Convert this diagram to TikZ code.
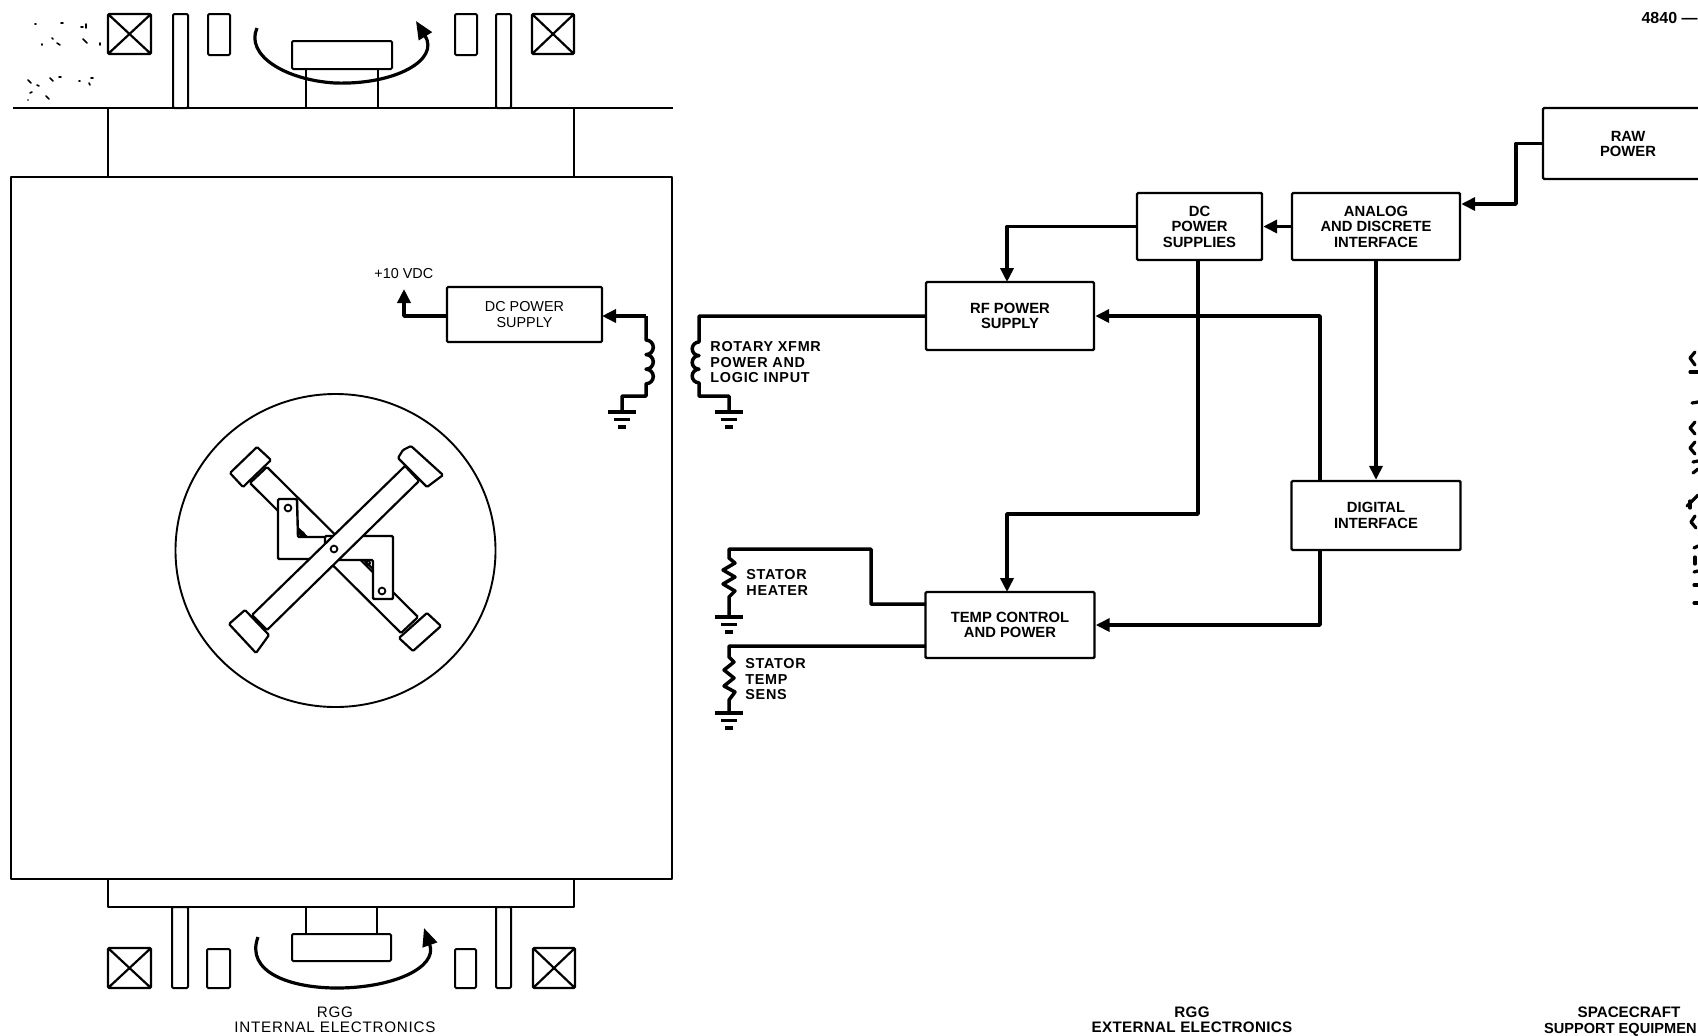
\documentclass[tikz,border=0pt]{standalone}
\usepackage{fontspec}
\setmainfont{Liberation Sans}
\newfontfamily\spaced[LetterSpace=5]{Liberation Sans}
\newfontfamily\spacedb[LetterSpace=5]{Liberation Sans Bold}
\newfontfamily\spacedc[LetterSpace=2]{Liberation Sans Bold}
\usetikzlibrary{arrows.meta}
\tikzset{
  x=0.5pt,y=-0.5pt,
  thin line/.style={line width=0.95pt,line join=round},
  block/.style={draw,line width=1.2pt,rounded corners=0.6pt,inner sep=0pt,align=center,font=\fontsize{7.4}{7.8}\selectfont\bfseries},
  iblock/.style={block,line width=1.05pt,font=\fontsize{7.2}{7.6}\selectfont},
  wire/.style={line width=1.75pt,line join=round},
  flow/.style={wire,-{Triangle[length=7pt,width=6.5pt]}},
  lbl/.style={inner sep=0pt,align=left,anchor=north west,font=\fontsize{7.2}{7.8}\selectfont\spacedb},
  caption/.style={inner sep=0pt,align=center,font=\fontsize{7.6}{7.6}\selectfont},
  part/.style={draw,fill=white,line width=1pt,rounded corners=0.6pt},
  xbox/.style={line width=1.1pt,rounded corners=0.6pt},
  speck/.style={line width=0.8pt,line cap=round},
  blob/.style={line width=1.6pt,line cap=round},
  gnd/.pic={
    \draw[line width=1.7pt] (-14,0) -- (14,0);
    \draw[line width=1.5pt] (-8,7) -- (8,7);
    \draw[line width=1.7pt] (-4,15) -- (4,15);
  }
}
\newcommand{\xcoil}[4]{%
  \draw[xbox] (#1,#2) rectangle (#3,#4) (#1,#2) -- (#3,#4) (#1,#4) -- (#3,#2);}
\begin{document}
\begin{tikzpicture}
\path[use as bounding box,fill=white] (0,0) rectangle (1698,1035);
\clip (0,0) rectangle (1698,1035);

% --- RGG housing ---
\draw[thin line] (11,177) rectangle (672,879);
\draw[thin line] (13,108) -- (673,108);
\draw[thin line] (108,108) -- (108,177);
\draw[thin line] (574,108) -- (574,177);
\draw[thin line] (108,879) -- (108,907) -- (574,907) -- (574,879);

% --- top rotary assembly ---
\xcoil{108}{14}{151}{54}
\xcoil{532}{14}{574}{54}
\draw[part] (173,14) rectangle (188,108);
\draw[part] (496,14) rectangle (511,108);
\draw[part] (208,14) rectangle (230,55);
\draw[part] (455,14) rectangle (477,55);
\draw[thin line] (306,69) -- (306,108);
\draw[thin line] (378,69) -- (378,108);
\draw[part] (292,41) rectangle (392,69);
\draw[flow,line width=1.6pt,-{Triangle[length=9pt,width=7.5pt]}] (257,28) .. controls (245,55) and (285,80) .. (335,83)
   .. controls (395,85) and (440,60) .. (416,21);

% --- bottom rotary assembly ---
\xcoil{108}{948}{151}{988}
\xcoil{533}{948}{575}{988}
\draw[part] (172,907) rectangle (188,988);
\draw[part] (496,907) rectangle (511,988);
\draw[part] (207,949) rectangle (230,988);
\draw[part] (455,949) rectangle (476,988);
\draw[thin line] (306,907) -- (306,934);
\draw[thin line] (377,907) -- (377,934);
\draw[part] (292,934) rectangle (391,961);
\draw[flow,line width=1.6pt,-{Triangle[length=9pt,width=7.5pt]}] (258,937) .. controls (245,972) and (290,988) .. (337,988)
   .. controls (392,988) and (438,968) .. (424,928);

% --- gyro rotor ---
\draw[thin line] (335.5,550.5) ellipse[x radius=160,y radius=156.5];
% back arm
\draw[part,line width=1.1pt] (250,483) -- (267,467) -- (418,617) -- (401,633) -- cycle;
\draw[part,line width=1.1pt] (230,473) -- (257,447) -- (271,460) -- (243,487) -- cycle;
\draw[part,line width=1.1pt] (399,638) -- (427,613) -- (441,626) -- (413,651) -- cycle;
% flexure plates
\draw[part,line width=1.2pt] (278,499) -- (297,499) -- (298,537) -- (345,537) -- (345,559) -- (278,559) -- cycle;
\draw[part,line width=1.2pt] (325,536) -- (393,536) -- (393,599) -- (373,599) -- (373,560) -- (325,560) -- cycle;
\draw[line width=0.9pt] (288,508) circle[radius=3.4];
\draw[line width=0.9pt] (382,591) circle[radius=3.4];
\draw[line width=1pt] (298,528) -- (307,537);
\draw[line width=0.9pt] (302,534) circle[radius=2];
\draw[line width=1pt] (373,569) -- (364,560);
\draw[line width=0.9pt] (368,563) circle[radius=2];
% front arm
\draw[part,line width=1.1pt] (252,615) -- (405,466) -- (419,481) -- (267,630) -- cycle;
\draw[part,line width=1.1pt] (229,624) -- (245,610) -- (269,635) -- (256,653) -- cycle;
\draw[part,line width=1.1pt] (403,450) -- (411,446) -- (443,475) -- (427,487) -- (398,458) -- cycle;
\draw[line width=0.9pt] (334,549) circle[radius=3.4];

% --- blocks ---
\node[iblock,minimum width=77.5pt,minimum height=27.5pt] (dcint) at (524.5,314.5) {DC POWER\\SUPPLY};
\node[block,minimum width=84pt,minimum height=34pt] (rf) at (1010,316) {RF POWER\\SUPPLY};
\node[block,minimum width=62.5pt,minimum height=33.5pt] (dc) at (1199.5,226.5) {DC\\POWER\\SUPPLIES};
\node[block,minimum width=84pt,minimum height=33.5pt] (analog) at (1376,226.5) {ANALOG\\AND DISCRETE\\INTERFACE};
\node[block,minimum width=84.5pt,minimum height=34.5pt] (digital) at (1376,515.5) {DIGITAL\\INTERFACE};
\node[block,minimum width=84.5pt,minimum height=33pt] (temp) at (1010,625) {TEMP CONTROL\\AND POWER};
\node[block,minimum width=90pt,minimum height=35.5pt] (raw) at (1633,143.5) {};
\node[inner sep=0pt,align=center,font=\fontsize{7.4}{7.8}\selectfont\bfseries] (rawtext) at (1628,144) {RAW\\POWER};

% --- named connection points ---
\coordinate (vout) at (404,289);
\coordinate (dcintW) at (447,316);
\coordinate (dcintE) at (602,316);
\coordinate (coilint) at (646,340);
\coordinate (coilext) at (699,342);
\coordinate (analogE) at (analog.east |- 0,204);
\coordinate (digRF) at (1320,481);
\coordinate (digTemp) at (1320,550);
\coordinate (dcBot) at (1198,260);
\coordinate (rfTop) at (1007,282);
\coordinate (tempTop) at (1007,592);
\coordinate (heatIn) at (926,604);
\coordinate (sensIn) at (926,646);
\coordinate (gndA) at (622,412);
\coordinate (gndB) at (729,412);
\coordinate (gndC) at (729,617);
\coordinate (gndD) at (729,713);

% --- connectors ---
\draw[flow] (raw.west) -- (1516,143.5) -- (1516,204) -- (analogE);
\draw[flow] (analog.west) -- (dc.east);
\draw[flow] (dc.west) -- (1007,226.5) -- (rfTop);
\draw[flow] (analog.south) -- (digital.north);
\draw[flow] (digRF) -- (1320,316) -- (rf.east);
\draw[flow] (digTemp) -- (1320,625) -- (temp.east);
\draw[flow] (dcBot) -- (1198,514) -- (1007,514) -- (tempTop);
\draw[flow] (dcintW) -- (404,316) -- (vout);
\draw[flow] (646,316) -- (dcintE);

% internal winding
\draw[wire] (646,316) -- (coilint)
  arc[start angle=-90,end angle=90,radius=7.3]
  arc[start angle=-90,end angle=90,radius=7.3]
  arc[start angle=-90,end angle=90,radius=7.3]
  -- (646,396) -- (622,396) -- (gndA);
\pic at (gndA) {gnd};
% external winding
\draw[wire] (rf.west) -- (699,316) -- (coilext)
  arc[start angle=270,end angle=90,radius=6.8]
  arc[start angle=270,end angle=90,radius=6.8]
  arc[start angle=270,end angle=90,radius=6.8]
  -- (699,396) -- (729,396) -- (gndB);
\pic at (gndB) {gnd};
% stator heater
\draw[wire] (heatIn) -- (871,604) -- (871,549) -- (729,549) -- (729,558) -- (735,563) -- (723,570)
  -- (735,577) -- (723,584) -- (735,591) -- (729,597) -- (gndC);
\pic at (gndC) {gnd};
% stator temp sensor
\draw[wire] (sensIn) -- (729,646) -- (729,657) -- (734,662) -- (724,670) -- (734,678) -- (724,686)
  -- (735,692) -- (729,700) -- (gndD);
\pic at (gndD) {gnd};

% --- labels ---
\node[inner sep=0pt,anchor=west,font=\fontsize{7.2}{7.6}\selectfont] (vdc) at (374,274) {+10 VDC};
\node[lbl] (xfmr) at (710,341) {ROTARY XFMR\\POWER AND\\LOGIC INPUT};
\node[lbl] (heater) at (746,569) {STATOR\\HEATER};
\node[lbl] (sens) at (745,658) {STATOR\\TEMP\\SENS};
\node[inner sep=0pt,anchor=east,font=\fontsize{8}{8}\selectfont\bfseries] (num) at (1698,18) {4840 ---};
\node[caption,font=\fontsize{7.6}{7.6}\selectfont\spaced] (capint) at (335,1020) {RGG\\INTERNAL ELECTRONICS};
\node[caption,font=\fontsize{7.6}{7.6}\selectfont\spacedc] (capext) at (1192,1020) {RGG\\EXTERNAL ELECTRONICS};
\node[caption,font=\fontsize{7.6}{7.6}\selectfont\bfseries,anchor=north] (capsc) at (1629,1006) {SPACECRAFT};
\node[caption,font=\fontsize{7.3}{7.3}\selectfont\bfseries,anchor=east] (capsu) at (1697,1030) {SUPPORT EQUIPMEN};

% --- illegible scan remnants, drawn as specks ---
\foreach \a/\b/\c/\d in {35/24/36/24,61/23/63/23,81/27/83/27,86/24/86/28,42/44/42/45,52/38/53/39,57/43/60/45,83/39/87/43,100/43/100/45,
  28/80/31/83,37/85/39/86,50/78/53/81,59/77/61/77,79/81/80/81,91/78/93/78,89/83/90/85,30/93/32/92,28/100/28/100,46/96/49/99}
  \draw[speck] (\a,\b) -- (\c,\d);
\foreach \a/\b/\c/\d in {1695/352/1690/358,1690/358/1695/365,1690/372/1698/372,1692/403/1698/402,1695/422/1690/428,1690/428/1695/434,
  1695/442/1690/448,1690/448/1695/454,1693/462/1698/461,1693/473/1698/469,1687/506/1698/495,1690/501/1690/508,1695/516/1691/522,1691/522/1696/528,
  1694/548/1698/546,1695/557/1695/564,1694/572/1698/571,1694/585/1698/585,1694/603/1698/603}
  \draw[blob] (\a,\b) -- (\c,\d);
\end{tikzpicture}
\end{document}
